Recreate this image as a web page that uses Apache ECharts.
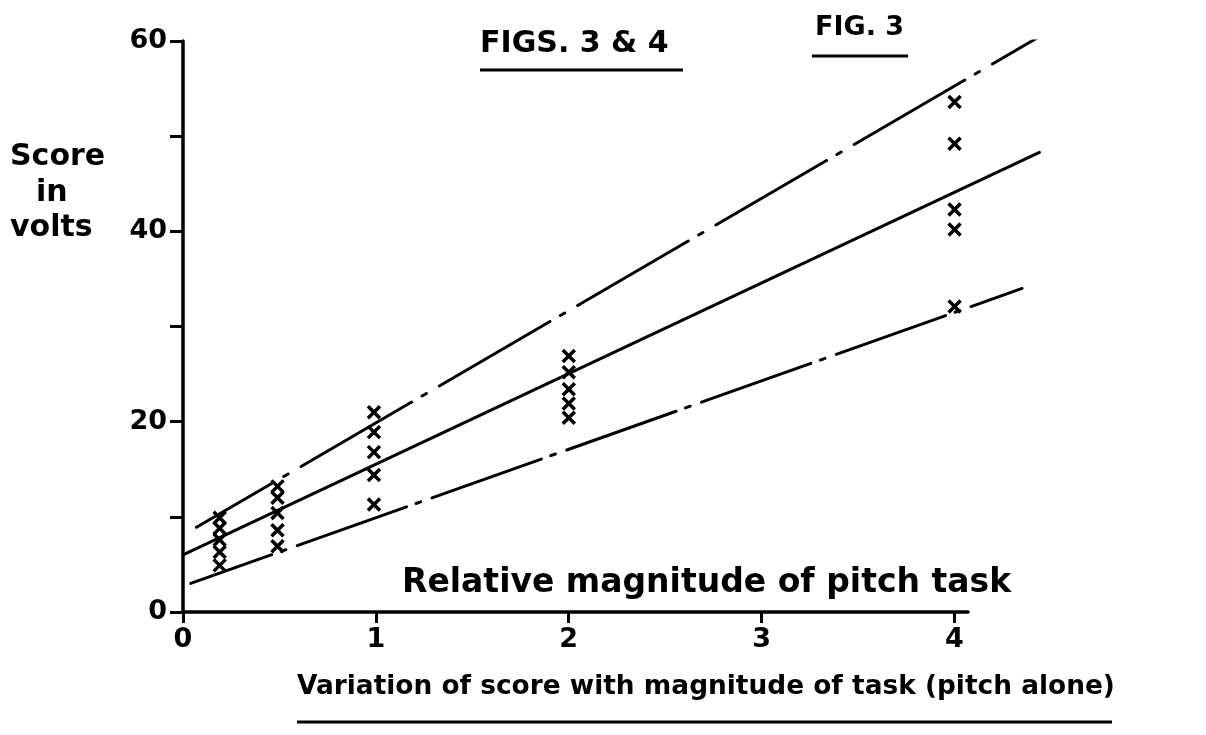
<!DOCTYPE html>
<html>
<head>
<meta charset="utf-8">
<script src="https://cdn.jsdelivr.net/npm/echarts@6/dist/echarts.min.js"></script>
<style>
  html, body { margin: 0; padding: 0; background: #fff; }
  #chart { width: 1206px; height: 735px; }
</style>
</head>
<body>
<div id="chart"></div>
<script>
// relative magnitude of pitch task (x) and measured scores in volts (y)
const taskX = [0.19, 0.49, 0.99, 2.0, 4.0];
const scores = [
    [9.9, 8.8, 7.6, 6.3, 4.9],
    [13.2, 12.0, 10.4, 8.6, 6.9],
    [21.0, 18.9, 16.8, 14.4, 11.3],
    [26.9, 25.2, 23.4, 21.9, 20.4],
    [53.6, 49.2, 42.3, 40.2, 32.1]
];
// fitted lines, [x, y] end points
const upperLine = [[0.07, 8.9], [4.46, 60.7]];
const middleLine = [[0.0, 6.0], [4.44, 48.3]];
const lowerLine = [[0.04, 3.0], [4.35, 34.0]];
const xTicks = [0, 1, 2, 3, 4];
const yTicks = [0, 10, 20, 30, 40, 50, 60];
const yLabels = [0, 20, 40, 60];

let points = [];
taskX.forEach((x, i) => {
    scores[i].forEach(v => {
        points.push([x, v]);
    });
});

let chart = echarts.init(document.getElementById('chart'));
let font = 'DejaVu Sans';

function label(text, x, y, size, weight) {
    return {
        type: 'text',
        left: x,
        top: y - size * 0.6,
        style: {
            text: text,
            fill: '#000',
            font: (weight || 'bold') + ' ' + size + 'px "' + font + '"'
        }
    };
}
function rule(x1, x2, y) {
    return {
        type: 'line',
        shape: { x1: x1, y1: y, x2: x2, y2: y },
        style: { stroke: '#000', lineWidth: 3 }
    };
}

// grid 0 carries the drawn axes, grid 1 (same scale, wider) carries the marks
// so that the fitted lines can run past the end of the x axis
let option = {
    backgroundColor: '#fff',
    animation: false,
    grid: [
        { left: 183, right: 238, top: 41, bottom: 123 },
        { left: 183, right: 155, top: 41, bottom: 123 }
    ],
    xAxis: [
        {
            type: 'value',
            gridIndex: 0,
            min: 0,
            max: 4.07,
            splitLine: { show: false },
            axisLine: { lineStyle: { color: '#000', width: 3.5 } },
            axisTick: {
                customValues: xTicks,
                length: 11,
                lineStyle: { color: '#000', width: 3 }
            },
            axisLabel: {
                customValues: xTicks,
                margin: 14,
                color: '#000',
                fontFamily: font,
                fontWeight: 'bold',
                fontSize: 27
            }
        },
        {
            type: 'value',
            gridIndex: 1,
            min: 0,
            max: 4.5,
            show: false
        }
    ],
    yAxis: [
        {
            type: 'value',
            gridIndex: 0,
            min: 0,
            max: 60,
            splitLine: { show: false },
            axisLine: { lineStyle: { color: '#000', width: 3.5 } },
            axisTick: {
                customValues: yTicks,
                length: 13,
                lineStyle: { color: '#000', width: 3 }
            },
            axisLabel: {
                customValues: yLabels,
                margin: 16,
                color: '#000',
                fontFamily: font,
                fontWeight: 'bold',
                fontSize: 27
            }
        },
        {
            type: 'value',
            gridIndex: 1,
            min: 0,
            max: 60,
            show: false
        }
    ],
    series: [
        {
            type: 'line',
            xAxisIndex: 1,
            yAxisIndex: 1,
            data: upperLine,
            symbol: 'none',
            lineStyle: { color: '#000', width: 3, type: [128, 12, 5, 15], dashOffset: 39, cap: 'round' }
        },
        {
            type: 'line',
            xAxisIndex: 1,
            yAxisIndex: 1,
            data: middleLine,
            symbol: 'none',
            lineStyle: { color: '#000', width: 3, cap: 'round' }
        },
        {
            type: 'line',
            xAxisIndex: 1,
            yAxisIndex: 1,
            data: lowerLine,
            symbol: 'none',
            lineStyle: { color: '#000', width: 3, type: [116, 10, 5, 12], dashOffset: 30, cap: 'round' }
        },
        {
            type: 'scatter',
            xAxisIndex: 1,
            yAxisIndex: 1,
            data: points,
            symbol: 'path://M0,0L10,10M10,0L0,10',
            symbolSize: 12,
            itemStyle: { color: '#000', borderColor: '#000', borderWidth: 3.5, opacity: 1 }
        }
    ],
    graphic: [
        label('Score', 10, 160, 30),
        label('in', 36, 196, 30),
        label('volts', 10, 231, 30),
        label('FIGS. 3 & 4', 480, 47, 30),
        rule(480, 683, 70),
        label('FIG. 3', 815, 31, 27),
        rule(812, 908, 56),
        label('Relative magnitude of pitch task', 402, 587, 33),
        label('Variation of score with magnitude of task (pitch alone)', 297, 690, 26.4),
        rule(297, 1112, 722)
    ]
};
chart.setOption(option);
window.onresize = () => {
    chart.resize();
};
</script>
</body>
</html>
